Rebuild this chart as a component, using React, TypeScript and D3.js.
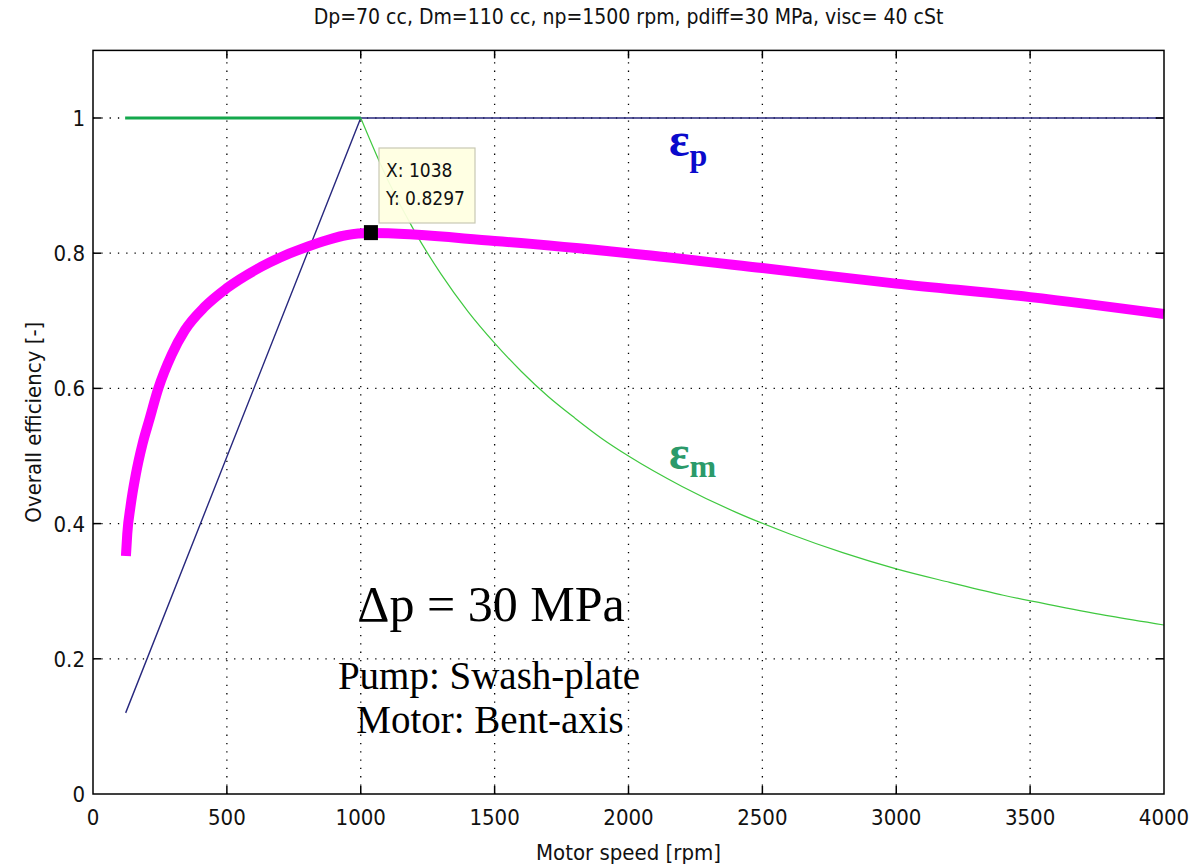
import React from 'react';
import * as d3 from 'd3';

// chart values
const xTicks = [0, 500, 1000, 1500, 2000, 2500, 3000, 3500, 4000];
const yTicks = [0, 0.2, 0.4, 0.6, 0.8, 1];
const yTickLabels = ['0', '0.2', '0.4', '0.6', '0.8', '1'];

// pump efficiency (blue)
const pumpSpeed = [122, 1000, 4000];
const pumpEff = [0.12, 1, 1];

// motor efficiency (green)
const motorSpeed = [120, 1000, 1100, 1200, 1300, 1400, 1500, 1600, 1700, 1800, 1900, 2000, 2200, 2400, 2600, 2800, 3000, 3200, 3400, 3600, 3800, 4000];
const motorEff = [1, 1, 0.909, 0.833, 0.769, 0.714, 0.667, 0.625, 0.588, 0.556, 0.526, 0.5, 0.455, 0.417, 0.385, 0.357, 0.333, 0.313, 0.294, 0.278, 0.263, 0.25];

// overall efficiency (magenta)
const overallSpeed = [123, 128, 140, 160, 185, 210, 244, 294, 343, 418, 499, 629, 803, 990, 1038, 1500, 2000, 2500, 3000, 3500, 4000];
const overallEff = [0.352, 0.385, 0.425, 0.473, 0.518, 0.553, 0.6, 0.65, 0.686, 0.721, 0.748, 0.78, 0.81, 0.829, 0.8297, 0.818, 0.8, 0.778, 0.755, 0.735, 0.71];

const tipX = 1038;
const tipY = 0.8297;

const titleText = 'Dp=70 cc, Dm=110 cc, np=1500 rpm, pdiff=30 MPa, visc= 40 cSt';
const sansNarrow = '"Liberation Sans Narrow", "DejaVu Sans Condensed", "Liberation Sans", sans-serif';
const serif = '"Liberation Serif", "DejaVu Serif", serif';

const W = 1201, H = 867;

export default function App() {
  const x = d3.scaleLinear().domain([0, 4000]).range([93, 1164]);
  const y = d3.scaleLinear().domain([0, 1.1]).range([794, 50.4]);
  const [x0, x1] = x.range();
  const [y0, y1] = y.range();

  const line = d3.line<[number, number]>()
    .x(d => x(d[0]))
    .y(d => y(d[1]));
  const smooth = d3.line<[number, number]>()
    .curve(d3.curveMonotoneX)
    .x(d => x(d[0]))
    .y(d => y(d[1]));

  const pump = pumpSpeed.map((s, i) => [s, pumpEff[i]] as [number, number]);
  const motor = motorSpeed.map((s, i) => [s, motorEff[i]] as [number, number]);
  const overall = overallSpeed.map((s, i) => [s, overallEff[i]] as [number, number]);
  const motorFlat = motor.filter(d => d[0] <= 1000);
  const motorDrop = motor.filter(d => d[0] >= 1000);

  const tick = 8;

  return (
    <svg width={W} height={H} style={{ position: 'absolute', left: 0, top: 0, background: '#fff' }}>
      {/* title */}
      <text x={(x0 + x1) / 2} y={24} textAnchor="middle" fontFamily={sansNarrow} fontSize={21} fill="#111">{titleText}</text>

      {/* grid */}
      <g stroke="#000" strokeWidth={1.3} strokeDasharray="1.3,7">
        {xTicks.slice(1, -1).map(t => (
          <line key={'gx' + t} x1={x(t)} x2={x(t)} y1={y0} y2={y1} />
        ))}
        {yTicks.slice(1).map(t => (
          <line key={'gy' + t} x1={x0} x2={x1} y1={y(t)} y2={y(t)} />
        ))}
      </g>

      {/* series */}
      <path d={line(pump) || ''} fill="none" stroke="#28287e" strokeWidth={1.4} />
      <path d={line(motorFlat) || ''} fill="none" stroke="#14a84c" strokeWidth={3} />
      <path d={smooth(motorDrop) || ''} fill="none" stroke="#3fc83f" strokeWidth={1.2} />
      <path d={smooth(overall) || ''} fill="none" stroke="#ff00ff" strokeWidth={10} strokeLinejoin="round" />

      {/* data tip */}
      <rect x={x(tipX) - 7} y={y(tipY) - 8} width={14} height={15} fill="#000" />
      <rect x={379} y={148} width={96} height={75} fill="#ffffe1" fillOpacity={0.93} stroke="#c9c9b4" strokeWidth={1.2} />
      <text x={386} y={177} fontFamily={sansNarrow} fontSize={19} fill="#111">X: {tipX}</text>
      <text x={386} y={205} fontFamily={sansNarrow} fontSize={19} fill="#111">Y: {tipY}</text>

      {/* axes box and ticks */}
      <rect x={x0} y={y1} width={x1 - x0} height={y0 - y1} fill="none" stroke="#000" strokeWidth={1.5} />
      <g stroke="#000" strokeWidth={1.5}>
        {xTicks.slice(1, -1).map(t => (
          <g key={'tx' + t}>
            <line x1={x(t)} x2={x(t)} y1={y0} y2={y0 - tick} />
            <line x1={x(t)} x2={x(t)} y1={y1} y2={y1 + tick} />
          </g>
        ))}
        {yTicks.slice(1).map(t => (
          <g key={'ty' + t}>
            <line x1={x0} x2={x0 + tick} y1={y(t)} y2={y(t)} />
            <line x1={x1} x2={x1 - tick} y1={y(t)} y2={y(t)} />
          </g>
        ))}
      </g>

      {/* tick labels */}
      <g fontFamily={sansNarrow} fontSize={22} fill="#111">
        {xTicks.map(t => (
          <text key={'lx' + t} x={x(t)} y={825} textAnchor="middle">{t}</text>
        ))}
        {yTicks.map((t, i) => (
          <text key={'ly' + t} x={x0 - 8} y={y(t) + 8} textAnchor="end">{yTickLabels[i]}</text>
        ))}
      </g>

      {/* axis labels */}
      <text x={(x0 + x1) / 2} y={860} textAnchor="middle" fontFamily={sansNarrow} fontSize={22} fill="#111">Motor speed [rpm]</text>
      <text transform={`translate(41,${(y0 + y1) / 2}) rotate(-90)`} textAnchor="middle" fontFamily={sansNarrow} fontSize={22} fill="#111">Overall efficiency [-]</text>

      {/* curve labels */}
      <text x={669} y={156} fontFamily={serif} fontWeight="bold" fontSize={48} fill="#0a0acc">
        ε<tspan fontSize={32} dy={10}>p</tspan>
      </text>
      <text x={669} y={469} fontFamily={serif} fontWeight="bold" fontSize={48} fill="#2b9a6a">
        ε<tspan fontSize={32} dy={8}>m</tspan>
      </text>

      {/* annotations */}
      <g fontFamily={serif} fill="#000" textAnchor="middle">
        <text x={491} y={621} fontSize={50}>Δp = 30 MPa</text>
        <text x={489} y={689} fontSize={39}>Pump: Swash-plate</text>
        <text x={490} y={733} fontSize={39}>Motor: Bent-axis</text>
      </g>
    </svg>
  );
}
